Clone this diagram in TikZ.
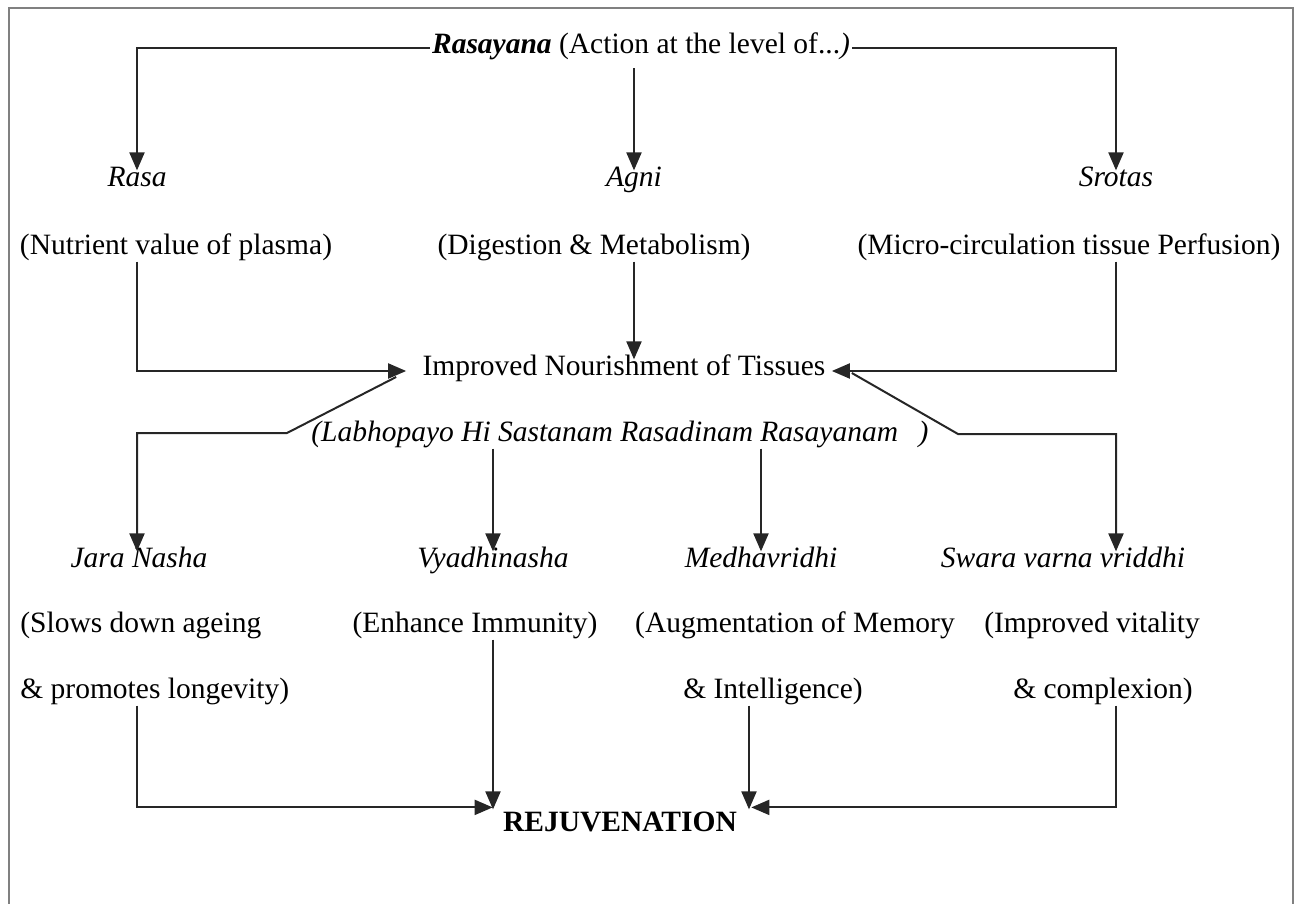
\documentclass[tikz,border=0pt]{standalone}
\usepackage{fontspec}
\setmainfont{Liberation Serif}
\usepackage{tikz}
\usetikzlibrary{arrows.meta, positioning}

\begin{document}
\begin{tikzpicture}[x=0.5pt, y=-0.5pt,
  every node/.style={inner sep=1pt, text height=0.7em, text depth=0.22em,
    font=\fontsize{14.75}{17}\selectfont},
  arr/.style={-{Triangle[length=9pt,width=7.5pt]}, line width=1pt, draw=black!85}]
  \useasboundingbox (0,0) rectangle (1298,904);
  \draw[gray, line width=0.8pt] (9,904) |- (1293,8) -- (1293,904);

  % top
  \node[text depth=0.1em] (Ras) at (641,48) {\textbf{\textit{Rasayana}} (Action at the level of...\textit{)}};
  \node (R) at (137,182) {\textit{Rasa}};
  \node (A) at (634,182) {\textit{Agni}};
  \node (S) at (1116,182) {\textit{Srotas}};
  \node (Rd) at (176,250) {(Nutrient value of plasma)};
  \node (Ad) at (594,250) {(Digestion \& Metabolism)};
  \node (Sd) at (1069,250) {(Micro-circulation tissue Perfusion)};
  \draw[arr] (Ras.west) -| (R.north);
  \draw[arr] (Ras.east) -| (S.north);
  \draw[arr] ([yshift=-5pt]Ras.south -| A.north) -- (A.north);

  % middle
  \node (T) at (624,371) {Improved Nourishment of Tissues};
  \node[anchor=west] (L) at (309,437) {\textit{(Labhopayo Hi Sastanam Rasadinam Rasayanam\hspace{0.7em})}};
  \coordinate (lb) at (287,433);
  \coordinate (rb) at (958,434);
  \draw[arr] (Ad.south -| A) -- (T.north -| A);
  \draw[arr] (Rd.south -| R) |- ([xshift=-7pt]T.west);
  \draw[arr] (Sd.south -| S) |- ([xshift=2pt]T.east);

  % effects
  \node (J) at (139,563) {\textit{Jara Nasha}};
  \node (V) at (493,563) {\textit{Vyadhinasha}};
  \node (M) at (761,563) {\textit{Medhavridhi}};
  \node (W) at (1063,563) {\textit{Swara varna vriddhi}};
  \draw[arr] ([xshift=-12pt,yshift=-3pt]T.west) -- (lb) -| (J.north -| R);
  \draw[arr] ([xshift=12pt,yshift=-1pt]T.east) -- (rb) -| (W.north -| S);
  \draw[arr] (L.south -| V) -- (V.north);
  \draw[arr] (L.south -| M) -- (M.north);

  \node[anchor=west] (J1) at (18,628) {(Slows down ageing};
  \node[anchor=west] (J2) at (18,694) {\& promotes longevity)};
  \node (V1) at (475,628) {(Enhance Immunity)};
  \node (M1) at (795,628) {(Augmentation of Memory};
  \node (M2) at (773,694) {\& Intelligence)};
  \node (W1) at (1092,628) {(Improved vitality};
  \node (W2) at (1103,694) {\& complexion)};

  % bottom
  \node (E) at (620,827) {\textbf{REJUVENATION}};
  \draw[arr] (J2.south -| R) |- ([xshift=-4pt,yshift=4pt]E.north west);
  \draw[arr] (V1.south -| V) -- ([yshift=3pt]V |- E.north);
  \draw[arr] ([xshift=-12pt]M2.south) -- ([xshift=-12pt,yshift=3pt]M2.south |- E.north);
  \draw[arr] (W2.south -| S) |- ([xshift=6pt,yshift=4pt]E.north east);
\end{tikzpicture}
\end{document}
